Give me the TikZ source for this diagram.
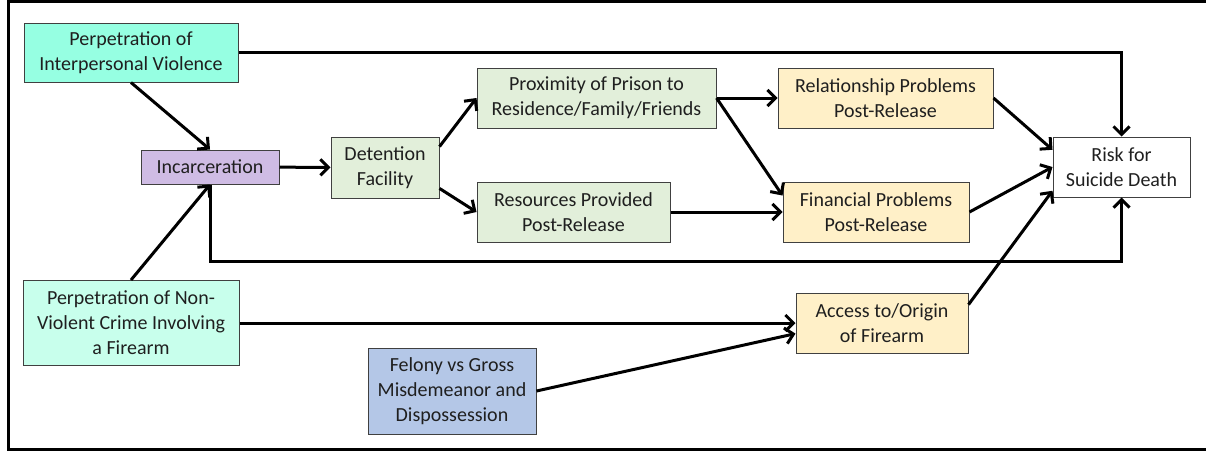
\documentclass[tikz,border=0pt]{standalone}
\usepackage{fontspec}
\setmainfont{Carlito}
\usetikzlibrary{arrows.meta,positioning,calc}

\definecolor{boxline}{RGB}{64,64,64}
\definecolor{aquadark}{RGB}{150,255,226}
\definecolor{aqualight}{RGB}{200,255,236}
\definecolor{lavender}{RGB}{207,188,228}
\definecolor{palegreen}{RGB}{226,239,218}
\definecolor{paleyellow}{RGB}{255,240,200}
\definecolor{paleblue}{RGB}{180,199,231}

\tikzset{box/.style={ % every box of the diagram
            draw=boxline,
            line width=0.5pt,
            align=center,
            inner sep=0pt,
            text=black!88,
            font=\fontsize{10}{12.5}\selectfont},
        link/.style={ % every arrow
            draw,
            line width=1.5pt,
            -{Straight Barb[length=4pt,width=8pt]}}
        }

\begin{document}
\begin{tikzpicture}[x=0.5pt,y=-0.5pt]
    \useasboundingbox (0,0) rectangle (1206,451);
    \draw[line width=1.5pt] (1206,1.5) -- (8,1.5) -- (8,449.5) -- (1206,449.5);

    \node[box, fill=aquadark, minimum width=107pt, minimum height=29.5pt] (piv) at (131,52.5) {Perpetration of\\Interpersonal Violence};
    \node[box, fill=lavender, minimum width=69pt, minimum height=17pt] (inc) at (210,167) {Incarceration};
    \node[box, fill=palegreen, minimum width=54pt, minimum height=30.5pt] (det) at (385,167.5) {Detention\\Facility};
    \node[box, fill=palegreen, minimum width=119.5pt, minimum height=30pt] (prox) at (596.5,98) {Proximity of Prison to\\Residence/Family/Friends};
    \node[box, fill=palegreen, minimum width=96.5pt, minimum height=30pt] (res) at (573.5,212) {Resources Provided\\Post-Release};
    \node[box, fill=paleyellow, minimum width=107.5pt, minimum height=30pt] (rel) at (885.5,98) {Relationship Problems\\Post-Release};
    \node[box, fill=paleyellow, minimum width=93pt, minimum height=30pt] (fin) at (876,212) {Financial Problems\\Post-Release};
    \node[box, fill=white, minimum width=68.5pt, minimum height=30pt] (risk) at (1121.5,167) {Risk for\\Suicide Death};
    \node[box, fill=aqualight, minimum width=108pt, minimum height=42.5pt] (pnvc) at (131,323) {Perpetration of Non-\\Violent Crime Involving\\a Firearm};
    \node[box, fill=paleyellow, minimum width=86pt, minimum height=30pt] (acc) at (882,323) {Access to/Origin\\of Firearm};
    \node[box, fill=paleblue, minimum width=84pt, minimum height=43pt] (fel) at (452,391) {Felony vs Gross\\Misdemeanor and\\Dispossession};

    \draw[link] (piv) -| (risk);
    \draw[link] (piv.south) -- (inc.north);
    \draw[link] (pnvc.north) -- (inc.south);
    \draw[link] (inc.south) -- ++(0,77) -| (risk.south);
    \draw[link] (inc) -- (det);
    \draw[link] (det.21) -- (prox.west);
    \draw[link] (det.-21) -- (res.west);
    \draw[link] (prox) -- (rel);
    \draw[link] (prox.east) -- (fin.170);
    \draw[link] (res) -- (fin);
    \draw[link] (rel.east) -- (risk.166);
    \draw[link] (fin.east) -- (risk.west);
    \draw[link] (acc.12) -- (risk.199);
    \draw[link] (pnvc) -- (acc);
    \draw[link] (fel.east) -- (acc.187);
\end{tikzpicture}
\end{document}
